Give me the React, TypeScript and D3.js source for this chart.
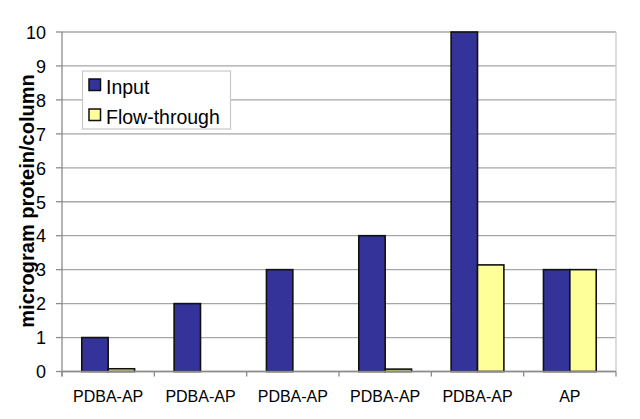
import React from "react";
import * as d3 from "d3";

const categories = ["PDBA-AP", "PDBA-AP", "PDBA-AP", "PDBA-AP", "PDBA-AP", "AP"];
const seriesNames = ["Input", "Flow-through"];
const inputValues = [1, 2, 3, 4, 10, 3];
const flowValues = [0.08, 0, 0, 0.07, 3.14, 3];
const yTicks = [0, 1, 2, 3, 4, 5, 6, 7, 8, 9, 10];
const colors = ["#333399", "#FFFF99"];

const W = 640, H = 419;
const L = 62, R = 616, T = 32, B = 371.5;

export default function App() {
  const y = d3.scaleLinear().domain([0, 10]).range([B, T]);
  const x0 = d3.scaleBand<number>().domain(categories.map((_, i) => i)).range([L, R]).padding(0);
  const bw = x0.bandwidth();
  const barW = bw / 3.5;
  const x1 = d3.scaleBand<string>().domain(seriesNames).range([barW * 0.75, bw - barW * 0.75]).padding(0);
  const series = [inputValues, flowValues];
  const font = "Arial, 'Liberation Sans', sans-serif";

  return (
    <svg width={W} height={H} style={{ position: "absolute", left: 0, top: 0, background: "#fff" }}>
      {/* gridlines */}
      {yTicks.map((t) => (
        <line key={"g" + t} x1={L} x2={R} y1={y(t)} y2={y(t)} stroke="#a6a6a6" strokeWidth={1.3} />
      ))}
      {/* right border */}
      <line x1={R} x2={R} y1={T} y2={B} stroke="#cfcfcf" strokeWidth={1.5} />
      {/* bars */}
      {series.map((vals, si) =>
        vals.map((v, ci) =>
          v > 0 ? (
            <rect
              key={`b${si}-${ci}`}
              x={(x0(ci) as number) + (x1(seriesNames[si]) as number)}
              y={y(v)}
              width={x1.bandwidth()}
              height={B - y(v)}
              fill={colors[si]}
              stroke="#111"
              strokeWidth={1.6}
            />
          ) : null
        )
      )}
      {/* y axis */}
      <line x1={L} x2={L} y1={T} y2={B + 5} stroke="#8c8c8c" strokeWidth={1.3} />
      {yTicks.map((t) => (
        <g key={"t" + t}>
          <line x1={L - 6} x2={L} y1={y(t)} y2={y(t)} stroke="#8c8c8c" strokeWidth={1.3} />
          <text x={46} y={y(t) + 2} textAnchor="end" dominantBaseline="middle" fontFamily={font} fontSize={18} fill="#000">
            {t}
          </text>
        </g>
      ))}
      {/* x axis */}
      <line x1={L} x2={R} y1={B} y2={B} stroke="#8c8c8c" strokeWidth={1.3} />
      {categories.map((_, i) => (
        <line key={"xt" + i} x1={x0(i) as number} x2={x0(i) as number} y1={B} y2={B + 5} stroke="#8c8c8c" strokeWidth={1.3} />
      ))}
      <line x1={R} x2={R} y1={B} y2={B + 5} stroke="#8c8c8c" strokeWidth={1.3} />
      {categories.map((c, i) => (
        <text key={"xl" + i} x={(x0(i) as number) + bw / 2} y={402} textAnchor="middle" fontFamily={font} fontSize={16} fill="#000">
          {c}
        </text>
      ))}
      {/* y title */}
      <text
        transform="translate(33.5,201) rotate(-90)"
        textAnchor="middle"
        fontFamily={font}
        fontWeight="bold"
        fontSize={20}
        fill="#000"
      >
        microgram protein/column
      </text>
      {/* legend */}
      <rect x={82.5} y={71} width={148} height={58} fill="#fff" stroke="#c8c8c8" strokeWidth={1.2} />
      {seriesNames.map((s, i) => (
        <g key={"lg" + i}>
          <rect x={89} y={79 + i * 30} width={11.5} height={11.5} fill={colors[i]} stroke="#111" strokeWidth={1.5} />
          <text x={106} y={94 + i * 30} fontFamily={font} fontSize={19.5} fill="#000">
            {s}
          </text>
        </g>
      ))}
    </svg>
  );
}
